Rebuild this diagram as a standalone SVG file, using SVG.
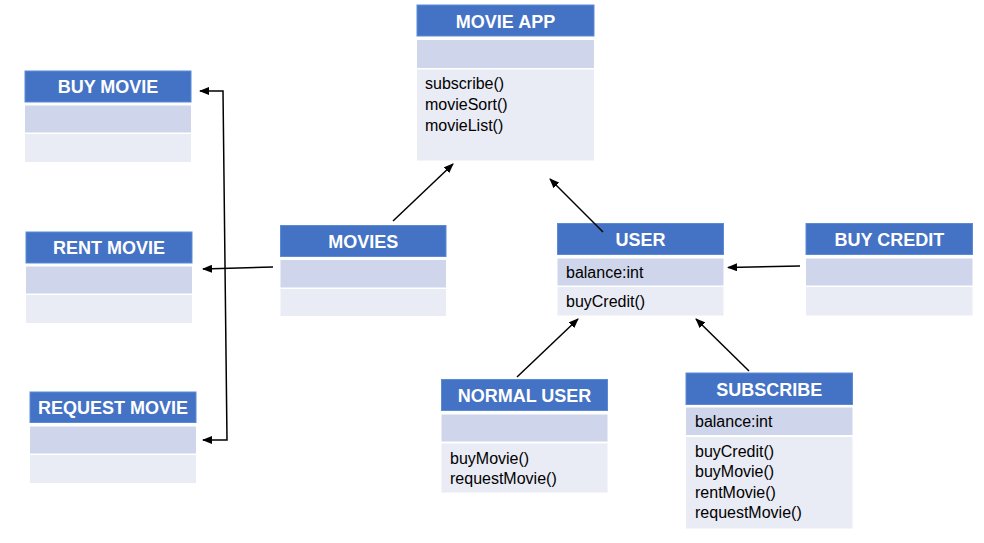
<svg xmlns="http://www.w3.org/2000/svg" width="984" height="543" viewBox="0 0 984 543">
<defs>
<marker id="arr" markerWidth="10" markerHeight="8" refX="9" refY="4" orient="auto-start-reverse" markerUnits="userSpaceOnUse">
<path d="M0,0 L10,4 L0,8 z" fill="#000"/>
</marker>
<style>
.hd{fill:#4472C4;stroke:#5B8BD5;stroke-width:1}
.at{fill:#CFD5EA}
.mt{fill:#E9EBF5}
.ht{font-family:"Liberation Sans",Arial,sans-serif;font-weight:bold;font-size:18px;fill:#fff;text-anchor:middle}
.tx{font-family:"Liberation Sans",Arial,sans-serif;font-size:16px;fill:#000}
.ln{stroke:#000;stroke-width:1.5;fill:none;marker-end:url(#arr)}
</style>
</defs>
<rect width="984" height="543" fill="#fff"/>

<g id="movie-app">
<rect class="hd" x="417" y="5" width="177" height="31"/>
<rect class="at" x="417" y="40" width="177" height="28"/>
<rect class="mt" x="417" y="69.5" width="177" height="91"/>
<text class="ht" x="505.5" y="27.5">MOVIE APP</text>
<text class="tx" x="425" y="89">subscribe()</text>
<text class="tx" x="425" y="110">movieSort()</text>
<text class="tx" x="425" y="131">movieList()</text>
</g>

<g id="buy-movie">
<rect class="hd" x="25" y="71" width="166" height="31"/>
<rect class="at" x="25" y="105.5" width="166" height="27"/>
<rect class="mt" x="25" y="134" width="166" height="28"/>
<text class="ht" x="108" y="93">BUY MOVIE</text>
</g>

<g id="rent-movie">
<rect class="hd" x="26" y="232" width="166" height="31"/>
<rect class="at" x="26" y="266.5" width="166" height="27"/>
<rect class="mt" x="26" y="295" width="166" height="28"/>
<text class="ht" x="109" y="254">RENT MOVIE</text>
</g>

<g id="request-movie">
<rect class="hd" x="30" y="392" width="166" height="30.5"/>
<rect class="at" x="30" y="426.5" width="166" height="27"/>
<rect class="mt" x="30" y="455" width="166" height="28"/>
<text class="ht" x="113" y="414">REQUEST MOVIE</text>
</g>

<g id="movies">
<rect class="hd" x="280.5" y="225.5" width="165.5" height="31"/>
<rect class="at" x="280.5" y="260" width="165.5" height="27.5"/>
<rect class="mt" x="280.5" y="289" width="165.5" height="27"/>
<text class="ht" x="363.3" y="247.5">MOVIES</text>
</g>

<g id="user">
<rect class="hd" x="557.5" y="223.5" width="166" height="31"/>
<rect class="at" x="557.5" y="258.5" width="166" height="27"/>
<rect class="mt" x="557.5" y="287" width="166" height="28.5"/>
<text class="ht" x="640.5" y="245.5">USER</text>
<text class="tx" x="566" y="277.5">balance:int</text>
<text class="tx" x="566" y="306.5">buyCredit()</text>
</g>

<g id="buy-credit">
<rect class="hd" x="806" y="223.5" width="166.5" height="31"/>
<rect class="at" x="806" y="258.5" width="166.5" height="27"/>
<rect class="mt" x="806" y="287" width="166.5" height="28.5"/>
<text class="ht" x="889.3" y="245.5">BUY CREDIT</text>
</g>

<g id="normal-user">
<rect class="hd" x="441.5" y="379.5" width="166" height="31"/>
<rect class="at" x="441.5" y="414.5" width="166" height="27"/>
<rect class="mt" x="441.5" y="443.5" width="166" height="49"/>
<text class="ht" x="524.5" y="401.5">NORMAL USER</text>
<text class="tx" x="450" y="463.5">buyMovie()</text>
<text class="tx" x="450" y="483.5">requestMovie()</text>
</g>

<g id="subscribe">
<rect class="hd" x="686" y="373" width="166.5" height="31.5"/>
<rect class="at" x="686" y="407.5" width="166.5" height="27.5"/>
<rect class="mt" x="686" y="437" width="166.5" height="91.5"/>
<text class="ht" x="769.3" y="395.5">SUBSCRIBE</text>
<text class="tx" x="695" y="426.5">balance:int</text>
<text class="tx" x="695" y="456.5">buyCredit()</text>
<text class="tx" x="695" y="477">buyMovie()</text>
<text class="tx" x="695" y="497.5">rentMovie()</text>
<text class="tx" x="695" y="518">requestMovie()</text>
</g>

<g id="connectors">
<line class="ln" x1="393" y1="221" x2="453" y2="164"/>
<line class="ln" x1="603" y1="232" x2="550" y2="179"/>
<line class="ln" x1="800" y1="266" x2="728" y2="267.5"/>
<line class="ln" x1="517" y1="377" x2="578" y2="319"/>
<line class="ln" x1="749" y1="371" x2="696" y2="319"/>
<line class="ln" x1="273" y1="267" x2="203" y2="269"/>
<path class="ln" d="M200,91 L223,91 L227,440 L203,440" style="marker-start:url(#arr)"/>
</g>
</svg>
